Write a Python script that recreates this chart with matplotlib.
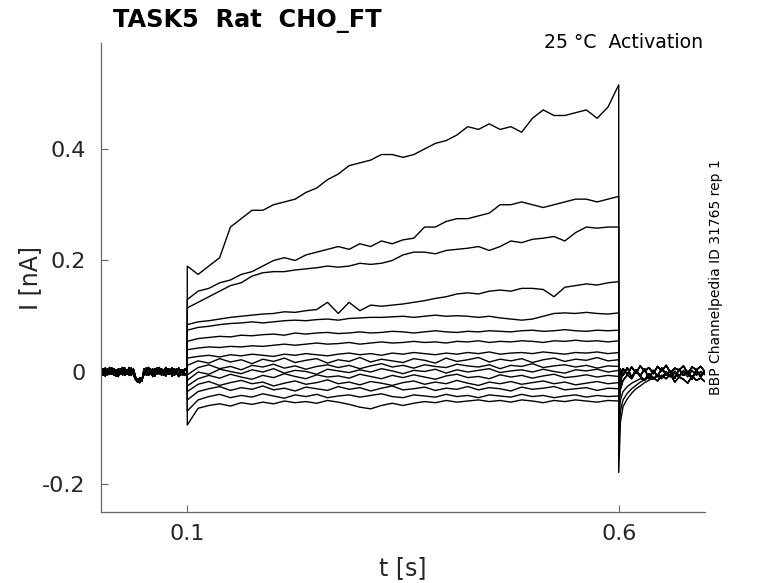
import numpy as np
import matplotlib
matplotlib.use('Agg')
import matplotlib.pyplot as plt

# --- time bases (s) ---
pre_t = np.linspace(0.0, 0.1, 41)
step_t = np.linspace(0.1, 0.6, 41)
post_t = np.concatenate([[0.6, 0.602], np.arange(0.605, 0.7001, 0.005)])

# baseline before the step (nA)
pre_a = [0.003, -0.006, 0.007, -0.005, 0.008, -0.004, 0.006, -0.007, 0.005, -0.003, 0.008,
         -0.006, 0.004, -0.005, 0.007, -0.004, -0.013, -0.018, -0.01, -0.016, 0.006, -0.005,
         0.008, -0.004, 0.005, -0.007, 0.007, -0.003, 0.006, -0.006, 0.008, -0.004, 0.005,
         -0.007, 0.006, -0.003, 0.007, -0.005, 0.004, -0.006, 0.0]
pre_b = [-0.005, 0.006, -0.007, 0.005, -0.004, 0.007, -0.006, 0.004, -0.008, 0.006, -0.005,
         0.007, -0.004, 0.008, -0.006, 0.005, -0.009, -0.015, -0.019, -0.011, -0.004, 0.007,
         -0.006, 0.005, -0.008, 0.006, -0.004, 0.008, -0.005, 0.004, -0.007, 0.006, -0.004,
         0.007, -0.006, 0.005, -0.008, 0.004, -0.005, 0.006, 0.0]

# currents during the step (nA), largest first
tr1 = [0.19, 0.175, 0.19, 0.205, 0.26, 0.275, 0.29, 0.29, 0.30, 0.305, 0.31, 0.322, 0.33,
       0.345, 0.355, 0.37, 0.375, 0.38, 0.39, 0.39, 0.385, 0.39, 0.40, 0.41, 0.415, 0.425,
       0.44, 0.435, 0.445, 0.435, 0.44, 0.43, 0.455, 0.47, 0.46, 0.46, 0.465, 0.47, 0.455,
       0.475, 0.515]
tr2 = [0.13, 0.145, 0.15, 0.16, 0.165, 0.175, 0.18, 0.19, 0.20, 0.205, 0.20, 0.21, 0.215,
       0.22, 0.225, 0.22, 0.23, 0.225, 0.235, 0.23, 0.237, 0.24, 0.26, 0.26, 0.27, 0.275,
       0.275, 0.28, 0.285, 0.30, 0.30, 0.305, 0.30, 0.295, 0.30, 0.305, 0.31, 0.31, 0.305,
       0.31, 0.315]
tr3 = [0.115, 0.125, 0.135, 0.145, 0.155, 0.16, 0.172, 0.178, 0.18, 0.18, 0.183, 0.185,
       0.187, 0.19, 0.188, 0.19, 0.195, 0.193, 0.195, 0.20, 0.21, 0.215, 0.215, 0.212, 0.218,
       0.22, 0.222, 0.225, 0.218, 0.225, 0.235, 0.232, 0.238, 0.24, 0.243, 0.235, 0.25, 0.26,
       0.258, 0.26, 0.26]
tr4 = [0.085, 0.09, 0.092, 0.095, 0.098, 0.10, 0.102, 0.104, 0.105, 0.108, 0.107, 0.11,
       0.112, 0.125, 0.105, 0.125, 0.11, 0.12, 0.118, 0.12, 0.122, 0.125, 0.128, 0.132, 0.135,
       0.14, 0.142, 0.14, 0.145, 0.147, 0.145, 0.15, 0.15, 0.148, 0.135, 0.152, 0.155, 0.158,
       0.156, 0.16, 0.162]
tr5 = [0.075, 0.08, 0.082, 0.085, 0.087, 0.088, 0.09, 0.088, 0.09, 0.092, 0.093, 0.092,
       0.094, 0.095, 0.093, 0.096, 0.097, 0.098, 0.098, 0.099, 0.10, 0.098, 0.10, 0.102, 0.10,
       0.101, 0.10, 0.098, 0.10, 0.097, 0.095, 0.093, 0.095, 0.10, 0.105, 0.106, 0.105, 0.107,
       0.105, 0.104, 0.106]
tr6 = [0.055, 0.06, 0.062, 0.064, 0.063, 0.066, 0.065, 0.067, 0.068, 0.066, 0.07, 0.068,
       0.07, 0.071, 0.069, 0.07, 0.072, 0.07, 0.071, 0.073, 0.072, 0.07, 0.072, 0.074, 0.072,
       0.071, 0.073, 0.072, 0.074, 0.073, 0.072, 0.074, 0.075, 0.073, 0.074, 0.076, 0.074,
       0.073, 0.075, 0.074, 0.075]
tr7 = [0.04, 0.043, 0.045, 0.044, 0.046, 0.045, 0.047, 0.046, 0.048, 0.05, 0.048, 0.05,
       0.052, 0.05, 0.051, 0.053, 0.05, 0.052, 0.054, 0.052, 0.053, 0.055, 0.053, 0.054, 0.052,
       0.055, 0.054, 0.056, 0.053, 0.055, 0.054, 0.056, 0.055, 0.053, 0.056, 0.055, 0.057,
       0.055, 0.056, 0.054, 0.056]
tr8 = [0.025, 0.028, 0.03, 0.027, 0.031, 0.029, 0.032, 0.03, 0.028, 0.032, 0.03, 0.033,
       0.031, 0.029, 0.032, 0.034, 0.031, 0.033, 0.03, 0.034, 0.032, 0.035, 0.033, 0.031, 0.034,
       0.032, 0.035, 0.033, 0.036, 0.032, 0.034, 0.035, 0.033, 0.036, 0.034, 0.032, 0.035,
       0.034, 0.036, 0.033, 0.035]
c1 = [0.012, 0.02, 0.016, 0.024, 0.018, 0.022, 0.015, 0.023, 0.019, 0.025, 0.017, 0.021,
      0.024, 0.016, 0.022, 0.019, 0.026, 0.018, 0.023, 0.02, 0.017, 0.024, 0.021, 0.016, 0.025,
      0.019, 0.022, 0.026, 0.018, 0.023, 0.02, 0.024, 0.017, 0.022, 0.025, 0.019, 0.023, 0.021,
      0.026, 0.02, 0.022]
c2 = [-0.005, 0.008, 0.013, 0.006, 0.01, 0.004, 0.012, 0.009, 0.014, 0.007, 0.011, 0.005,
      0.01, 0.013, 0.008, 0.012, 0.006, 0.011, 0.015, 0.009, 0.012, 0.007, 0.013, 0.01, 0.008,
      0.014, 0.011, 0.009, 0.013, 0.006, 0.012, 0.01, 0.015, 0.008, 0.011, 0.013, 0.009, 0.012,
      0.007, 0.011, 0.01]
c3 = [-0.015, 0.0, -0.004, 0.005, 0.001, -0.003, 0.004, 0.0, 0.006, -0.002, 0.003, 0.001,
      -0.004, 0.005, 0.002, -0.001, 0.004, 0.0, 0.006, 0.002, -0.003, 0.003, 0.001, 0.005,
      -0.002, 0.004, 0.0, 0.003, 0.006, -0.001, 0.002, 0.004, 0.0, 0.005, 0.001, -0.002, 0.004,
      0.002, 0.005, 0.0, 0.003]
c4 = [-0.025, -0.012, -0.006, -0.011, -0.004, -0.009, -0.013, -0.006, -0.01, -0.003, -0.008,
      -0.012, -0.005, -0.009, -0.007, -0.011, -0.004, -0.008, -0.012, -0.006, -0.01, -0.005,
      -0.009, -0.013, -0.007, -0.004, -0.01, -0.008, -0.012, -0.005, -0.009, -0.006, -0.011,
      -0.007, -0.004, -0.01, -0.008, -0.005, -0.009, -0.006, -0.008]
c5 = [-0.035, -0.022, -0.017, -0.024, -0.019, -0.015, -0.021, -0.018, -0.025, -0.02, -0.016,
      -0.022, -0.019, -0.014, -0.021, -0.018, -0.023, -0.017, -0.02, -0.024, -0.019, -0.016,
      -0.022, -0.018, -0.021, -0.015, -0.02, -0.024, -0.018, -0.021, -0.017, -0.022, -0.019,
      -0.016, -0.021, -0.018, -0.023, -0.02, -0.017, -0.021, -0.019]
c6 = [-0.05, -0.035, -0.03, -0.026, -0.033, -0.028, -0.031, -0.025, -0.032, -0.029, -0.034,
      -0.027, -0.03, -0.033, -0.026, -0.031, -0.028, -0.034, -0.029, -0.025, -0.032, -0.03,
      -0.027, -0.033, -0.029, -0.031, -0.026, -0.032, -0.028, -0.03, -0.034, -0.027, -0.031,
      -0.029, -0.026, -0.032, -0.03, -0.028, -0.033, -0.029, -0.03]
c7 = [-0.07, -0.05, -0.044, -0.04, -0.046, -0.042, -0.045, -0.039, -0.043, -0.047, -0.041,
      -0.044, -0.04, -0.046, -0.043, -0.041, -0.045, -0.042, -0.039, -0.044, -0.046, -0.041,
      -0.043, -0.045, -0.04, -0.044, -0.042, -0.046, -0.041, -0.043, -0.045, -0.04, -0.044,
      -0.042, -0.046, -0.043, -0.041, -0.045, -0.042, -0.044, -0.043]
c8 = [-0.095, -0.065, -0.06, -0.057, -0.061, -0.055, -0.058, -0.054, -0.057, -0.052, -0.055,
      -0.053, -0.056, -0.051, -0.054, -0.058, -0.063, -0.066, -0.06, -0.056, -0.06, -0.056,
      -0.053, -0.055, -0.051, -0.054, -0.052, -0.05, -0.053, -0.051, -0.054, -0.05, -0.052,
      -0.055, -0.051, -0.053, -0.05, -0.052, -0.054, -0.051, -0.052]

# after the step: tail currents (nA)
tail1 = [-0.18, -0.09, -0.062, -0.048, -0.038, -0.03, -0.025, -0.019, -0.015, -0.011, -0.008,
         -0.012, -0.004, -0.009, -0.002, -0.007, 0.003, -0.005, 0.002, -0.006, 0.001, -0.003]
tail2 = [-0.12, -0.07, -0.05, -0.038, -0.03, -0.024, -0.018, -0.014, -0.01, -0.013, -0.006,
         -0.01, -0.003, -0.008, 0.002, -0.006, 0.0, -0.009, 0.003, -0.004, -0.001, -0.005]
tail3 = [-0.09, -0.05, -0.035, -0.026, -0.02, -0.016, -0.012, -0.015, -0.008, -0.012, -0.004,
         -0.009, 0.001, -0.006, -0.002, -0.01, 0.002, -0.004, -0.008, 0.0, -0.005, 0.001]
post_a = [-0.04, -0.02, 0.006, -0.004, 0.009, -0.002, 0.011, 0.001, 0.008, -0.003, 0.01,
          0.002, 0.012, -0.001, 0.007, 0.003, 0.011, -0.002, 0.009, 0.004, 0.01, 0.0]
post_b = [-0.02, 0.005, -0.006, 0.008, -0.01, 0.004, -0.007, 0.006, -0.012, 0.003, -0.008,
          0.007, -0.005, 0.002, -0.011, 0.005, -0.006, 0.001, -0.013, 0.004, -0.009, 0.002]
post_c = [-0.06, -0.03, -0.015, -0.005, -0.012, 0.002, -0.008, -0.014, -0.003, -0.01, -0.016,
          -0.006, -0.012, -0.004, -0.018, -0.009, -0.013, -0.02, -0.007, -0.015, -0.011, -0.017]

steps = [tr1, tr2, tr3, tr4, tr5, tr6, tr7, tr8, c1, c2, c3, c4, c5, c6, c7, c8]
tails = [tail1, tail2, tail3, post_c, post_a, post_b, post_a, post_b,
         post_a, post_b, post_c, post_a, post_b, post_c, post_a, post_b]
pres = [pre_a, pre_b] * 8

fig = plt.figure(figsize=(7.78, 5.83), dpi=100)
ax = fig.add_axes([101 / 778, 71 / 583, 604 / 778, 469 / 583])

for pre, step, tail in zip(pres, steps, tails):
    t = np.concatenate([pre_t, step_t, post_t])
    y = np.concatenate([pre, step, tail])
    ax.plot(t, y, color='black', lw=1.0)

ax.set_xlim(0, 0.7)
ax.set_ylim(-0.251, 0.59)
ax.set_xticks([0.1, 0.6])
ax.set_xticklabels(['0.1', '0.6'])
ax.set_yticks([-0.2, 0, 0.2, 0.4])
ax.set_yticklabels(['-0.2', '0', '0.2', '0.4'])

for side in ['top', 'right']:
    ax.spines[side].set_visible(False)
for side in ['left', 'bottom']:
    ax.spines[side].set_color('#666666')
    ax.spines[side].set_linewidth(0.9)
ax.tick_params(direction='in', length=5, color='#666666', labelcolor='#262626',
               labelsize=16)
ax.tick_params(axis='y', pad=11)
ax.tick_params(axis='x', pad=9)

ax.set_xlabel('t [s]', fontsize=17, color='#262626', labelpad=8)
ax.set_ylabel('I [nA]', fontsize=17, color='#262626', labelpad=0)

fig.text(113 / 778, 1 - 27 / 583, 'TASK5  Rat  CHO_FT', fontsize=17.3, fontweight='bold',
         va='baseline', ha='left')
fig.text(703 / 778, 1 - 48 / 583, '25 °C  Activation', fontsize=13.6, va='baseline', ha='right')
fig.text(716 / 778, 1 - 277 / 583, 'BBP Channelpedia ID 31765 rep 1', fontsize=10,
         rotation=90, va='center', ha='center')

fig.savefig('out.png', dpi=100)
